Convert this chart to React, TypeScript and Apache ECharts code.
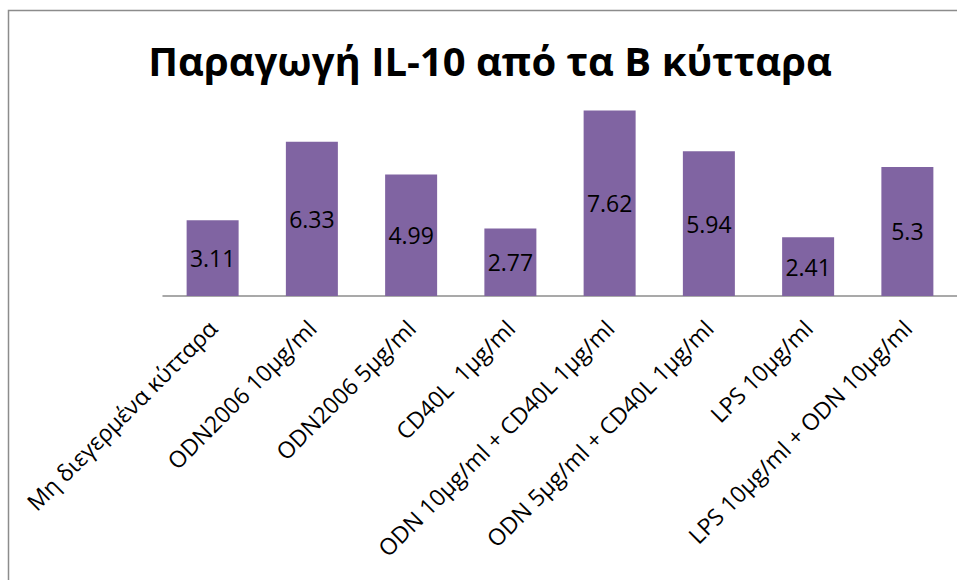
import React, { useEffect, useRef } from "react";
import * as echarts from "echarts";

const titleText = "Παραγωγή IL-10 από τα B κύτταρα";
const categories = [
  "Μη διεγερμένα κύτταρα",
  "ODN2006 10μg/ml",
  "ODN2006 5μg/ml",
  "CD40L  1μg/ml",
  "ODN 10μg/ml + CD40L 1μg/ml",
  "ODN 5μg/ml + CD40L 1μg/ml",
  "LPS 10μg/ml",
  "LPS 10μg/ml + ODN 10μg/ml",
];
const values = [3.11, 6.33, 4.99, 2.77, 7.62, 5.94, 2.41, 5.3];

export default function App() {
  const ref = useRef<HTMLDivElement>(null);
  useEffect(() => {
    if (!ref.current) return;
    const chart = echarts.init(ref.current, null, { renderer: "svg" });
    chart.setOption({
      animation: false,
      backgroundColor: "#ffffff",
      title: {
        text: titleText,
        left: 485,
        top: 35,
        textAlign: "center",
        textStyle: {
          fontFamily: "Open Sans",
          fontWeight: "bold",
          fontSize: 40,
          color: "#000000",
        },
      },
      graphic: [
        {
          type: "rect",
          shape: { x: 8.5, y: 10.5, width: 1000, height: 1000 },
          style: { fill: "none", stroke: "#8c8c8c", lineWidth: 1.5 },
          silent: true,
        },
      ],
      grid: { left: 163, top: 52.5, width: 808, height: 243.5, containLabel: false },
      xAxis: {
        type: "category",
        data: categories,
        axisLine: { lineStyle: { color: "#8c8c8c", width: 1.5 } },
        axisTick: { show: false },
        axisLabel: {
          rotate: 45,
          interval: 0,
          margin: 28,
          fontFamily: "Open Sans",
          fontSize: 23,
          color: "#000000",
        },
      },
      yAxis: {
        type: "value",
        min: 0,
        max: 10,
        show: false,
        splitLine: { show: false },
      },
      series: [
        {
          type: "bar",
          data: values,
          barWidth: 52,
          itemStyle: { color: "#8064A2" },
          label: {
            show: true,
            position: "inside",
            fontFamily: "Open Sans",
            fontSize: 23,
            color: "#000000",
          },
        },
      ],
    });
    return () => chart.dispose();
  }, []);
  return (
    <div
      ref={ref}
      style={{ position: "fixed", left: 0, top: 0, width: 957, height: 580 }}
    />
  );
}
